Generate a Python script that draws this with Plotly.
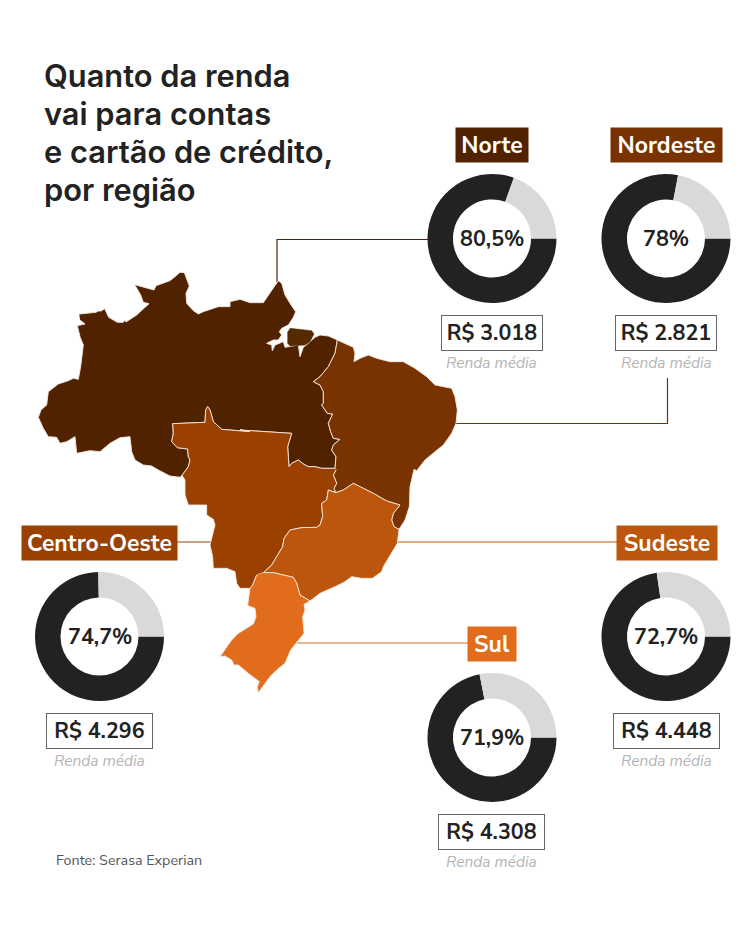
import plotly.graph_objects as go

title_lines = ['Quanto da renda', 'vai para contas', 'e cartão de crédito,', 'por região']
regions = ['Norte', 'Nordeste', 'Centro-Oeste', 'Sudeste', 'Sul']
shares = [80.5, 78, 74.7, 72.7, 71.9]
share_labels = ['80,5%', '78%', '74,7%', '72,7%', '71,9%']
incomes = ['R$ 3.018', 'R$ 2.821', 'R$ 4.296', 'R$ 4.448', 'R$ 4.308']
colors = ['#502200', '#793300', '#9a4000', '#bb560c', '#e06c1c']
line_colors = ['#502200', '#793300', '#9a4000', '#bb560c', '#e06c1c']

north_top = [(148,162),(198,157),(204,153),(213,153),(224,146),(236,172),(262,187),(280,187),(284,180),(288,186),
             (320,165),(357,131),(340,127),(332,105),(314,74),(345,83),(372,90),(378,77),(395,70),(420,62),(435,50),
             (450,37),(463,38),(468,52),(474,65),(478,78),(468,100),(470,130),(490,152),(505,162),(520,155),
             (540,148),(565,140),(600,140),(600,125),(630,118),(660,128)]
north_delta = [(30,128),(70,128),(90,100),(115,62),(125,70),(135,105),(150,130),(167,155),(160,172),(155,180),
               (145,195),(125,205),(118,215),(125,225),(115,240),(100,240),(80,250),(95,255),(97,272),(105,255),
               (130,245),(135,262),(175,255),(180,290),(190,262),(205,250),(225,232),(240,225),(265,228)]
north_west = [(420,648),(385,630),(365,618),(340,615),(315,600),(305,575),(300,530),(270,533),(240,550),(210,575),
              (180,572),(140,580),(135,530),(110,545),(90,550),(80,532),(55,530),(40,505),(25,472),(33,450),(50,435),
              (55,395),(85,372),(115,362),(130,355),(145,358),(152,320),(160,255),(150,230),(142,197),(165,192),(150,180)]
marajo = [(150,205),(215,212),(222,222),(210,245),(195,255),(150,258),(143,250),(143,215)]
border_north_ne = [(292,240),(285,280),(265,320),(240,350),(220,365),(240,375),(250,395),(250,430),(245,435),
                   (262,460),(278,462),(265,490),(272,515),(280,535),(300,538),(280,555),(275,570),(288,590),(285,625)]
border_to_co = [(285,625),(245,625),(225,620),(205,620),(190,612),(175,600),(155,610),(147,620),(143,560),(155,520),(0,510)]
border_north_co = [(660,515),(575,508),(550,485),(540,450),(533,440),(527,450),(525,487),(428,491),(430,520),
                   (425,545),(442,563),(473,567),(475,590),(480,600),(475,620),(452,652)]
ne_coast = [(325,255),(340,262),(345,280),(342,305),(360,295),(385,285),(410,295),(450,305),(490,305),(525,325),
            (560,350),(585,375),(635,385),(645,410),(652,450),(648,490),(635,520),(610,555),(585,575),(555,600),
            (530,632),(522,628),(510,680)]
ne_south = [(720,50),(718,110),(705,150)]
ne_inland = [(492,55),(500,40),(490,15),(498,0)]
co_west = [(35,15),(45,30),(45,75),(55,105),(110,105),(110,135),(130,148),(135,165),(120,225),(128,260),(130,295),
           (170,295),(195,305),(200,340),(210,355),(240,355),(248,345),(260,315)]
border_co_se = [(280,308),(305,285),(320,260),(338,230),(342,205),(360,180),(395,173),(440,172),(450,165),(458,140),
                (455,100),(470,90),(475,60),(497,68)]
border_ne_se = [(497,68),(520,60),(550,40),(570,50),(610,70),(650,93),(690,105),(670,130),(665,150),(672,170),(687,178)]
se_coast = [(682,220),(660,255),(640,290),(635,305),(607,325),(575,325),(545,320),(525,335),(495,350),(450,370)]
border_se_sul = [(280,308),(310,308),(340,315),(370,322),(380,340),(390,375),(420,393)]
sul_coast = [(402,403),(405,420),(398,440),(402,490),(380,518),(362,540),(345,580),(320,600),(300,620),(285,640),
             (265,668),(262,650),(268,635),(235,610),(205,585),(192,585),(185,570),(165,558),(150,560),(185,510),
             (205,490),(250,462),(258,440),(255,415),(233,407),(240,355),(248,345),(260,315)]


def crop1(pts):
    return [(30 + x / 3, 260 + y / 3) for x, y in pts]

def crop2(pts):
    return [(240 + x / 3, 260 + y / 3) for x, y in pts]

def crop3(pts):
    return [(170 + x / 3, 470 + y / 3) for x, y in pts]


norte = (crop1(north_top) + crop2(north_delta) + crop2(border_north_ne) + crop2(border_to_co)
         + crop1(border_north_co) + crop1(north_west))
nordeste = (crop2(border_north_ne[:1] + ne_coast) + crop3(ne_south) + crop3(border_ne_se[::-1]) + crop3(ne_inland)
            + crop2(border_north_ne[::-1]))
centro = (crop2(border_to_co) + crop1(border_north_co) + crop3(co_west) + crop3(border_co_se) + crop3(ne_inland))
sudeste = crop3(border_ne_se + se_coast + border_se_sul[::-1] + border_co_se)
sul = crop3(border_se_sul + sul_coast)
outlines = [norte, nordeste, centro, sudeste, sul]

# leader lines, donut centres and label boxes (all in page pixels)
leaders = [[(277, 282), (277, 239.5), (428, 239.5)], [(456, 423.5), (667.5, 423.5), (667.5, 378)],
           [(177, 542), (212, 542)], [(398, 542), (617, 542)], [(297, 643), (468, 643)]]
centers = [(492, 238.5), (666, 238.5), (99.5, 636.5), (666, 636.5), (492, 737.5)]
tag_boxes = [(492, 145, 72, 34), (666.5, 145, 111, 34), (99.5, 542.5, 155, 34), (667, 542.5, 100, 34), (492, 643.5, 48, 34)]
value_boxes = [(491.5, 333, 100, 34), (666, 333, 100, 34), (99, 731, 105, 34), (666, 731, 105, 34), (491.5, 832, 105, 34)]
W, H, R = 750, 937, 64.5

fig = go.Figure()

for pts, c in zip(leaders, line_colors):
    fig.add_trace(go.Scatter(x=[p[0] for p in pts], y=[p[1] for p in pts], mode='lines',
                             line=dict(color=c, width=1.2), hoverinfo='skip'))

for pts, c in zip(outlines, colors):
    fig.add_trace(go.Scatter(x=[p[0] for p in pts], y=[p[1] for p in pts], mode='lines', fill='toself',
                             fillcolor=c, line=dict(color='#f3e6dc', width=0.9), hoverinfo='skip'))
isl = crop2(marajo)
fig.add_trace(go.Scatter(x=[p[0] for p in isl], y=[p[1] for p in isl], mode='lines', fill='toself',
                         fillcolor='#552a00', line=dict(color='#552a00', width=0.5), hoverinfo='skip'))

for i in range(len(regions)):
    cx, cy = centers[i]
    fig.add_trace(go.Pie(values=[shares[i], 100 - shares[i]], hole=0.605, sort=False, direction='clockwise',
                         rotation=90, textinfo='none', hoverinfo='skip', showlegend=False,
                         marker=dict(colors=['#222222', '#d9d9d9'], line=dict(width=0)),
                         domain=dict(x=[(cx - R) / W, (cx + R) / W], y=[1 - (cy + R) / H, 1 - (cy - R) / H])))

font = 'Nunito Sans, Noto Sans, sans-serif'
notes = []

for i, line in enumerate(title_lines):
    notes.append(dict(x=41.5, y=75 + i * 38, text=line, xanchor='left', yanchor='middle', showarrow=False,
                      font=dict(family='Inter, sans-serif', size=30.8, color='#222222', weight=600)))

for i in range(len(regions)):
    cx, cy = centers[i]
    notes.append(dict(x=cx, y=cy, text=share_labels[i], showarrow=False,
                      font=dict(family=font, size=21.5, color='#222222', weight=700)))
    bx, by, bw, bh = tag_boxes[i]
    notes.append(dict(x=bx, y=by, text=regions[i], showarrow=False, width=bw, height=bh, bgcolor=colors[i],
                      borderpad=0, font=dict(family=font, size=23, color='white', weight=700)))
    vx, vy, vw, vh = value_boxes[i]
    notes.append(dict(x=vx, y=vy, text=incomes[i], showarrow=False, width=vw, height=vh, bgcolor='white',
                      bordercolor='#666666', borderwidth=1, borderpad=0,
                      font=dict(family=font, size=21.5, color='#222222', weight=700)))
    notes.append(dict(x=vx, y=vy + 29, text='Renda média', showarrow=False,
                      font=dict(family=font, size=15.5, color='#b5b5b5', style='italic')))

notes.append(dict(x=54, y=860, text='Fonte: Serasa Experian', xanchor='left', showarrow=False,
                  font=dict(family=font, size=14.3, color='#555555')))

fig.update_layout(width=W, height=H, margin=dict(l=0, r=0, t=0, b=0), paper_bgcolor='white', plot_bgcolor='white',
                  showlegend=False, annotations=notes,
                  xaxis=dict(range=[0, W], visible=False, fixedrange=True),
                  yaxis=dict(range=[H, 0], visible=False, fixedrange=True))

# browser default body margin would push the whole figure 8px in
fig.write_html("out.html", config=dict(displayModeBar=False), post_script="document.body.style.margin='0';")
